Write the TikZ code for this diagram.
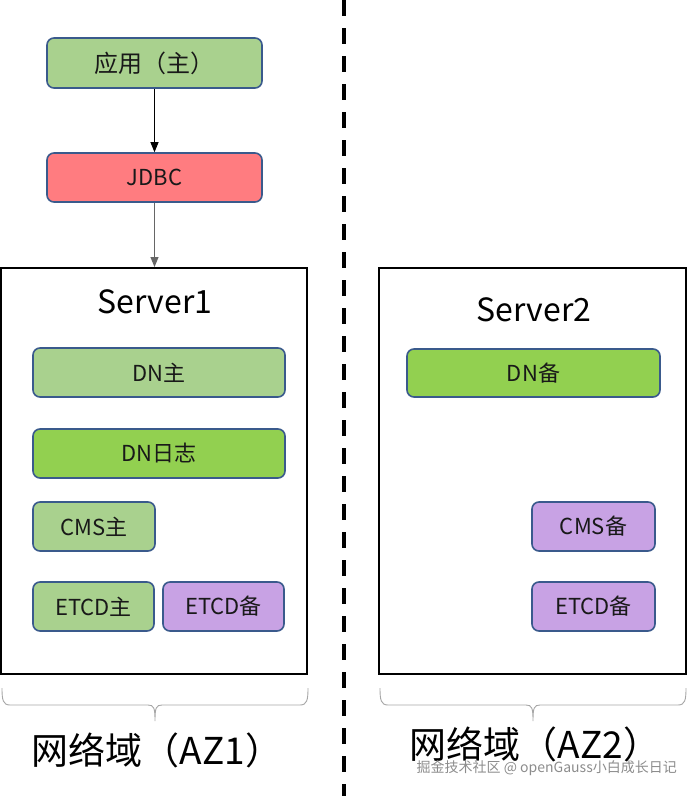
\documentclass[tikz,border=0pt]{standalone}
\usepackage{fontspec}
\setmainfont{Noto Sans CJK SC}
\usetikzlibrary{arrows.meta}
\definecolor{lgreen}{HTML}{A9D18E}
\definecolor{bgreen}{HTML}{92D050}
\definecolor{jred}{HTML}{FF7C80}
\definecolor{lpurple}{HTML}{C8A2E4}
\definecolor{bord}{HTML}{3A5A8C}
\tikzset{
  box/.style={draw=bord, line width=1.6pt, rounded corners=7pt, inner sep=0pt,
    font=\fontsize{22}{26}\selectfont, text=black!90},
  serverbox/.style={draw=black, line width=2pt, inner sep=0pt},
  conn/.style={-{Triangle[length=10pt,width=8pt]}, line width=1pt},
  brace/.style={draw=gray!70, line width=0.9pt},
  title/.style={font=\fontsize{32}{36}\selectfont, inner sep=0pt},
  azlabel/.style={font=\fontsize{37}{40}\selectfont, inner sep=0pt},
}
\begin{document}
\begin{tikzpicture}[x=1pt,y=-1pt]
\useasboundingbox (0,0) rectangle (696,796);
% divider
\draw[line width=3.6pt, dash pattern=on 16pt off 12pt] (344,0) -- (344,796);
% top boxes
\node[box, fill=lgreen, minimum width=215pt, minimum height=50pt, font=\fontsize{24}{28}\selectfont] (app) at (154.5,63) {应用（主）};
\node[box, fill=jred, minimum width=215pt, minimum height=49pt] (jdbc) at (154.5,177.5) {JDBC};
% servers
\node[serverbox, minimum width=306pt, minimum height=406pt] (s1) at (154,471) {};
\node[serverbox, minimum width=307pt, minimum height=406pt] (s2) at (532.5,471) {};
\node[title] (t1) at (155,302) {Server1};
\node[title] (t2) at (534,310) {Server2};
% connectors
\draw[conn] (app.south) -- (jdbc.north);
\draw[conn, draw=black!60] (jdbc.south) -- (s1.north -| jdbc.south);
% server1 contents
\node[box, fill=lgreen, minimum width=252pt, minimum height=49pt] (dnm) at (159,372.5) {DN主};
\node[box, fill=bgreen, minimum width=252pt, minimum height=49pt] (dnl) at (159,453.5) {DN日志};
\node[box, fill=lgreen, minimum width=122pt, minimum height=49pt] (cmsm) at (94,526.5) {CMS主};
\node[box, fill=lgreen, minimum width=121pt, minimum height=49pt] (etm) at (93.5,606.5) {ETCD主};
\node[box, fill=lpurple, minimum width=121pt, minimum height=49pt] (etb1) at (223.5,606.5) {ETCD备};
% server2 contents
\node[box, fill=bgreen, minimum width=253pt, minimum height=48pt] (dnb) at (533.5,373) {DN备};
\node[box, fill=lpurple, minimum width=123pt, minimum height=49pt] (cmsb) at (593.5,526.5) {CMS备};
\node[box, fill=lpurple, minimum width=123pt, minimum height=49pt] (etb2) at (593.5,606.5) {ETCD备};
% braces
\draw[brace] (2,688) .. controls (2,700) and (3,705) .. (10,705) -- (148,705)
  .. controls (154,705) and (155,708) .. (155,721)
  .. controls (155,708) and (156,705) .. (162,705) -- (300,705)
  .. controls (307,705) and (308,700) .. (308,688);
\draw[brace] (380,688) .. controls (380,700) and (381,705) .. (388,705) -- (526,705)
  .. controls (532,705) and (533,708) .. (533,721)
  .. controls (533,708) and (534,705) .. (540,705) -- (678,705)
  .. controls (685,705) and (686,700) .. (686,688);
% labels
\node[azlabel] (az1) at (157,750) {网络域（AZ1）};
\node[azlabel] (az2) at (535,744) {网络域（AZ2）};
\node[font=\fontsize{14}{16}\selectfont, text=black!45, inner sep=0pt, anchor=east] (wm) at (677,768) {掘金技术社区 @ openGauss小白成长日记};
\end{tikzpicture}
\end{document}
